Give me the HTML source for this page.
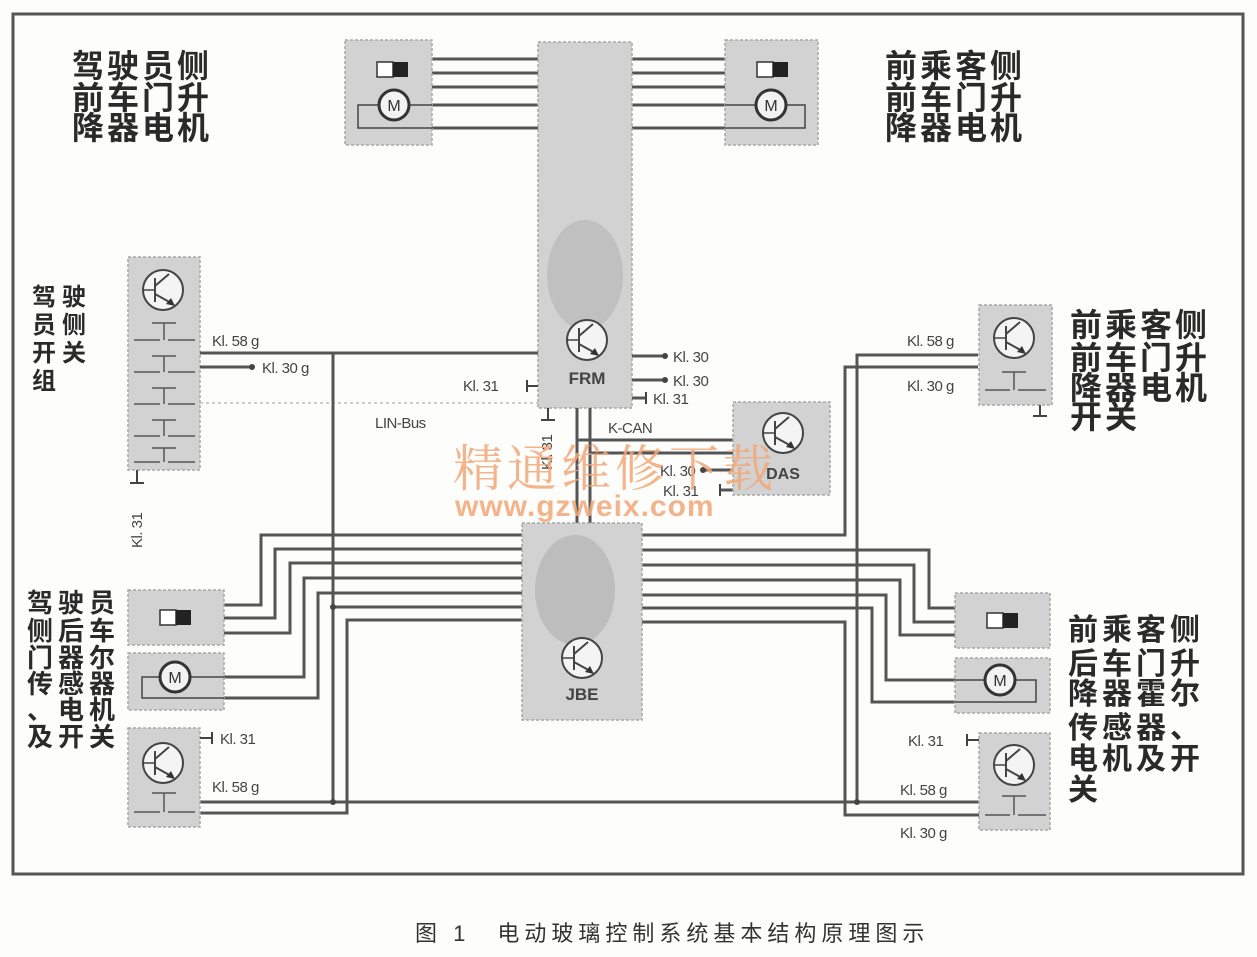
<!DOCTYPE html>
<html><head><meta charset="utf-8"><style>
html,body{margin:0;padding:0;background:#fdfdfc;}
svg{display:block}
.cn{font-family:"Liberation Sans","Noto Sans CJK SC","WenQuanYi Zen Hei",sans-serif;font-weight:bold;fill:#2a2a2a}
.kl{font-family:"Liberation Sans",sans-serif;font-size:15px;fill:#444;letter-spacing:-0.5px}
.w{stroke:#555;stroke-width:3;fill:none}
.bx{fill:#d2d2d2;stroke:#a8a8a8;stroke-width:1.5;stroke-dasharray:3 2}
</style></head><body>
<svg width="1257" height="957" viewBox="0 0 1257 957" xmlns="http://www.w3.org/2000/svg">
<defs>
<g id="tr">
<circle r="20" fill="#f4f4f4" stroke="#444" stroke-width="2"/>
<line x1="-8" y1="-12" x2="-8" y2="12" stroke="#444" stroke-width="2"/>
<line x1="-20" y1="0" x2="-8" y2="0" stroke="#444" stroke-width="1.5"/>
<line x1="-8" y1="-4" x2="6" y2="-16" stroke="#444" stroke-width="2"/>
<line x1="-8" y1="4" x2="10" y2="14" stroke="#444" stroke-width="2"/>
<polygon points="12,16 3,14 8,8" fill="#333"/>
</g>
<g id="mot">
<ellipse rx="15" ry="15" fill="#f2f2f2" stroke="#333" stroke-width="3"/>
<text x="0" y="6" text-anchor="middle" font-family="Liberation Sans" font-size="16" fill="#333">M</text>
</g>
<g id="sw">
<rect x="0" y="0" width="16" height="15" fill="#fff" stroke="#333" stroke-width="1.5"/>
<rect x="16" y="0" width="15" height="15" fill="#222"/>
</g>
</defs>

<rect x="13" y="14" width="1230" height="860" fill="none" stroke="#555" stroke-width="3"/>

<g class="cn" font-size="32">
<text x="72" y="77" letter-spacing="3">驾驶员侧</text>
<text x="72" y="109" letter-spacing="3">前车门升</text>
<text x="72" y="139" letter-spacing="3">降器电机</text>
<text x="885" y="77" letter-spacing="3">前乘客侧</text>
<text x="885" y="109" letter-spacing="3">前车门升</text>
<text x="885" y="139" letter-spacing="3">降器电机</text>
</g>

<g class="w">
<line x1="432" y1="59" x2="538" y2="59"/><line x1="432" y1="73" x2="538" y2="73"/>
<line x1="432" y1="87" x2="538" y2="87"/><line x1="432" y1="105" x2="538" y2="105"/>
<line x1="432" y1="128" x2="538" y2="128"/>
<line x1="632" y1="59" x2="725" y2="59"/><line x1="632" y1="73" x2="725" y2="73"/>
<line x1="632" y1="87" x2="725" y2="87"/><line x1="632" y1="105" x2="725" y2="105"/>
<line x1="632" y1="128" x2="725" y2="128"/>
</g>
<rect class="bx" x="345" y="40" width="87" height="105"/>
<rect class="bx" x="725" y="40" width="93" height="105"/>
<use href="#sw" x="377" y="62"/>
<use href="#sw" x="757" y="62"/>
<path d="M380 105 H358 V128 H432 M409 105 H432" stroke="#444" stroke-width="1.5" fill="none"/>
<path d="M725 105 H756 M786 105 H805 V128 H725" stroke="#444" stroke-width="1.5" fill="none"/>
<use href="#mot" x="394" y="105"/>
<use href="#mot" x="771" y="105"/>

<rect class="bx" x="538" y="42" width="94" height="366"/>
<ellipse cx="585" cy="275" rx="38" ry="55" fill="#bcbcbc" opacity="0.8"/>
<use href="#tr" x="587" y="340"/>
<text x="587" y="384" text-anchor="middle" font-family="Liberation Sans" font-weight="bold" font-size="17" fill="#444">FRM</text>

<g class="cn" font-size="24">
<text x="32" y="305">驾</text><text x="62" y="305">驶</text>
<text x="32" y="333">员</text><text x="62" y="333">侧</text>
<text x="32" y="361">开</text><text x="62" y="361">关</text>
<text x="32" y="389">组</text>
</g>
<rect class="bx" x="128" y="257" width="72" height="213"/>
<use href="#tr" x="163" y="290"/>
<g stroke="#555" stroke-width="1.5" fill="none">
<path d="M152 323 H176 M164 323 V340 M134 340 H160 M168 340 H195"/>
<path d="M152 356 H176 M164 356 V372 M134 372 H160 M168 372 H195"/>
<path d="M152 388 H176 M164 388 V404 M134 404 H160 M168 404 H195"/>
<path d="M152 420 H176 M164 420 V436 M134 436 H160 M168 436 H195"/>
<path d="M152 448 H176 M164 448 V462 M134 462 H160 M168 462 H195"/>
</g>
<path d="M137 470 V483 M130 483 H144" stroke="#444" stroke-width="2"/>
<text class="kl" transform="translate(142,548) rotate(-90)">Kl. 31</text>
<line x1="200" y1="403" x2="538" y2="403" stroke="#bbb" stroke-width="1.5" stroke-dasharray="3 3"/>
<g class="w">
<line x1="200" y1="353" x2="538" y2="353"/>
<line x1="200" y1="367" x2="252" y2="367"/>
<line x1="333" y1="353" x2="333" y2="802"/>
</g>
<circle cx="252" cy="367" r="3" fill="#444"/>
<text class="kl" x="212" y="346">Kl. 58 g</text>
<text class="kl" x="262" y="373">Kl. 30 g</text>
<text class="kl" x="375" y="428">LIN-Bus</text>
<path d="M538 386 H527 M527 380 V392" stroke="#444" stroke-width="2"/>
<text class="kl" x="463" y="391">Kl. 31</text>

<g class="w"><line x1="632" y1="356" x2="665" y2="356"/><line x1="632" y1="380" x2="665" y2="380"/><line x1="632" y1="398" x2="646" y2="398"/></g>
<circle cx="665" cy="356" r="3" fill="#444"/><circle cx="665" cy="380" r="3" fill="#444"/>
<line x1="646" y1="392" x2="646" y2="404" stroke="#444" stroke-width="2"/>
<text class="kl" x="673" y="362">Kl. 30</text>
<text class="kl" x="673" y="386">Kl. 30</text>
<text class="kl" x="653" y="404">Kl. 31</text>

<g class="w">
<line x1="577" y1="408" x2="577" y2="523"/>
<line x1="590" y1="408" x2="590" y2="523"/>
<line x1="577" y1="440" x2="733" y2="440"/>
<line x1="590" y1="453" x2="733" y2="453"/>
<line x1="703" y1="470" x2="733" y2="470"/>
<line x1="720" y1="490" x2="733" y2="490"/>
</g>
<path d="M548 408 V420 M541 420 H555" stroke="#444" stroke-width="2"/>
<text class="kl" transform="translate(552,470) rotate(-90)">Kl. 31</text>
<circle cx="703" cy="470" r="3" fill="#444"/>
<line x1="720" y1="484" x2="720" y2="496" stroke="#444" stroke-width="2"/>
<text class="kl" x="608" y="433">K-CAN</text>
<text class="kl" x="660" y="476">Kl. 30</text>
<text class="kl" x="663" y="496">Kl. 31</text>
<rect class="bx" x="733" y="402" width="97" height="93"/>
<use href="#tr" x="783" y="433"/>
<text x="783" y="479" text-anchor="middle" font-family="Liberation Sans" font-weight="bold" font-size="16" fill="#444">DAS</text>

<g class="w">
<path d="M522 535 H261 V605 H224"/>
<path d="M522 549 H275 V618 H224"/>
<path d="M522 563 H290 V633 H224"/>
<path d="M522 578 H304 V677 H224"/>
<path d="M522 593 H318 V698 H224"/>
<path d="M522 607 H333"/>
<path d="M522 620 H347 V813 H200"/>
<path d="M200 802 H979"/>
<path d="M642 535 H845 V367 H978"/>
<path d="M857 802 V355 H978"/>
<path d="M642 550 H929 V608 H955"/>
<path d="M642 565 H914 V622 H955"/>
<path d="M642 580 H900 V635 H955"/>
<path d="M642 595 H886 V680 H955"/>
<path d="M642 608 H872 V702 H955"/>
<path d="M642 622 H845 V815 H979"/>
</g>
<circle cx="333" cy="607" r="3" fill="#444"/><circle cx="333" cy="802" r="3" fill="#444"/>
<circle cx="857" cy="802" r="3" fill="#444"/>

<rect class="bx" x="522" y="523" width="120" height="197"/>
<ellipse cx="575" cy="590" rx="40" ry="55" fill="#b8b8b8" opacity="0.8"/>
<use href="#tr" x="582" y="658"/>
<text x="582" y="700" text-anchor="middle" font-family="Liberation Sans" font-weight="bold" font-size="17" fill="#444">JBE</text>

<g class="cn" font-size="26">
<text x="27" y="612">驾</text><text x="58" y="612">驶</text><text x="89" y="612">员</text>
<text x="27" y="640">侧</text><text x="58" y="640">后</text><text x="89" y="640">车</text>
<text x="27" y="667">门</text><text x="58" y="667">器</text><text x="89" y="667">尔</text>
<text x="27" y="693">传</text><text x="58" y="693">感</text><text x="89" y="693">器</text>
<text x="27" y="719">、</text><text x="58" y="719">电</text><text x="89" y="719">机</text>
<text x="27" y="746">及</text><text x="58" y="746">开</text><text x="89" y="746">关</text>
</g>
<rect class="bx" x="128" y="590" width="96" height="55"/>
<use href="#sw" x="160" y="610"/>
<rect class="bx" x="128" y="653" width="96" height="57"/>
<path d="M160 677 H142 V698 H224 M190 677 H224" stroke="#444" stroke-width="1.5" fill="none"/>
<use href="#mot" x="175" y="677"/>
<rect class="bx" x="128" y="728" width="72" height="99"/>
<use href="#tr" x="163" y="763"/>
<path d="M152 793 H176 M164 793 V812 M134 812 H160 M168 812 H195" stroke="#555" stroke-width="1.5" fill="none"/>
<path d="M200 738 H212 M212 732 V744" stroke="#444" stroke-width="2"/>
<text class="kl" x="220" y="744">Kl. 31</text>
<text class="kl" x="212" y="792">Kl. 58 g</text>

<rect class="bx" x="979" y="305" width="73" height="100"/>
<use href="#tr" x="1014" y="338"/>
<path d="M1002 372 H1026 M1014 372 V390 M985 390 H1010 M1018 390 H1046" stroke="#555" stroke-width="1.5" fill="none"/>
<path d="M1040 405 V416 M1033 416 H1047" stroke="#444" stroke-width="2"/>
<text class="kl" x="907" y="346">Kl. 58 g</text>
<text class="kl" x="907" y="391">Kl. 30 g</text>
<g class="cn" font-size="32">
<text x="1070" y="336" letter-spacing="3">前乘客侧</text>
<text x="1070" y="369" letter-spacing="3">前车门升</text>
<text x="1070" y="399" letter-spacing="3">降器电机</text>
<text x="1070" y="428" letter-spacing="3">开关</text>
</g>

<rect class="bx" x="955" y="593" width="95" height="55"/>
<use href="#sw" x="987" y="613"/>
<rect class="bx" x="955" y="658" width="95" height="55"/>
<path d="M955 680 H985 M1015 680 H1036 V702 H955" stroke="#444" stroke-width="1.5" fill="none"/>
<use href="#mot" x="1000" y="680"/>
<rect class="bx" x="979" y="733" width="71" height="97"/>
<use href="#tr" x="1014" y="765"/>
<path d="M1002 796 H1026 M1014 796 V815 M985 815 H1010 M1018 815 H1046" stroke="#555" stroke-width="1.5" fill="none"/>
<path d="M979 740 H967 M967 734 V746" stroke="#444" stroke-width="2"/>
<text class="kl" x="908" y="746">Kl. 31</text>
<text class="kl" x="900" y="795">Kl. 58 g</text>
<text class="kl" x="900" y="838">Kl. 30 g</text>
<g class="cn" font-size="30">
<text x="1068" y="640" letter-spacing="4">前乘客侧</text>
<text x="1068" y="674" letter-spacing="4">后车门升</text>
<text x="1068" y="704" letter-spacing="4">降器霍尔</text>
<text x="1068" y="738" letter-spacing="4">传感器、</text>
<text x="1068" y="769" letter-spacing="4">电机及开</text>
<text x="1068" y="800" letter-spacing="4">关</text>
</g>

<text x="453" y="486" font-size="50" fill="#f3a878" opacity="0.85" letter-spacing="4" style="font-family:'Liberation Serif','Noto Serif CJK SC',serif">精通维修下载</text>
<text x="455" y="516" font-family="Liberation Sans" font-weight="bold" font-size="30" fill="#f3a878" opacity="0.85" letter-spacing="1">www.gzweix.com</text>

<text x="415" y="941" class="cn" font-size="22" style="font-weight:normal;fill:#333" letter-spacing="5">图 1　电动玻璃控制系统基本结构原理图示</text>
</svg>
</body></html>
